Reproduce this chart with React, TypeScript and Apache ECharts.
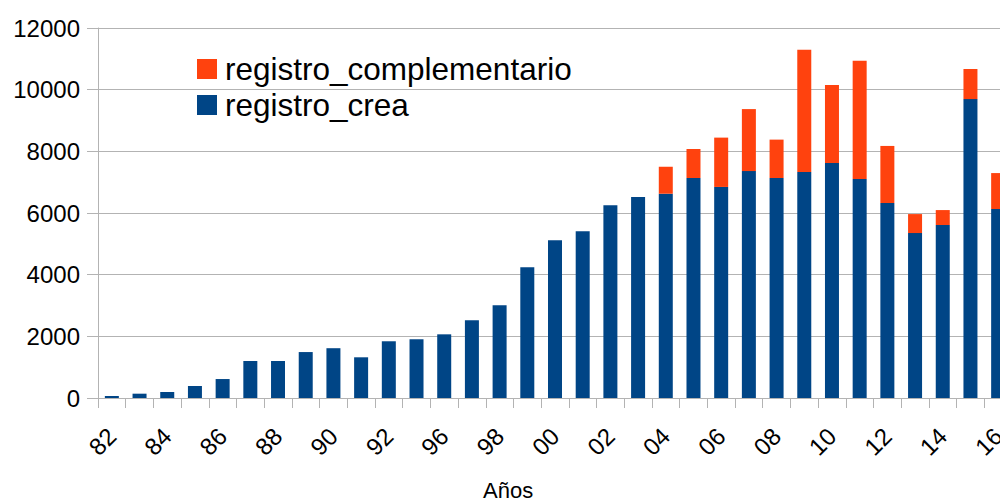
import React, { useEffect, useRef } from "react";
import * as echarts from "echarts";

const years = [
  "82", "83", "84", "85", "86", "87", "88", "89", "90", "91", "92", "94",
  "96", "97", "98", "99", "00", "01", "02", "03", "04", "05", "06", "07",
  "08", "09", "10", "11", "12", "13", "14", "15", "16",
];

const registroCrea = [
  65, 140, 195, 390, 615, 1200, 1200, 1490, 1615, 1320, 1840, 1905,
  2065, 2520, 3005, 4240, 5115, 5410, 6250, 6520, 6625, 7135, 6845, 7360,
  7135, 7330, 7620, 7105, 6325, 5350, 5610, 9695, 6130,
];

const registroComplementario = [
  null, null, null, null, null, null, null, null, null, null, null, null,
  null, null, null, null, null, null, null, null, 875, 940, 1600, 2010,
  1245, 3965, 2530, 3830, 1850, 615, 485, 975, 1165,
];

const yTicks = { min: 0, max: 12000, interval: 2000 };

const FONT = "'Liberation Sans', Arial, sans-serif";

export default function App() {
  const ref = useRef<HTMLDivElement>(null);

  useEffect(() => {
    if (!ref.current) return;
    const chart = echarts.init(ref.current, null, { renderer: "svg" });
    chart.setOption({
      animation: false,
      backgroundColor: "#ffffff",
      textStyle: { fontFamily: FONT },
      legend: {
        data: ["registro_complementario", "registro_crea"],
        orient: "vertical",
        left: 197,
        top: 53,
        padding: 0,
        itemWidth: 20,
        itemHeight: 20,
        itemGap: 4,
        icon: "rect",
        textStyle: {
          fontSize: 31.5,
          lineHeight: 31,
          color: "#000000",
          fontFamily: FONT,
          padding: [0, 0, 0, 3],
        },
      },
      grid: {
        left: 98,
        right: 0,
        top: 28,
        bottom: 103,
        containLabel: false,
      },
      xAxis: {
        type: "category",
        data: years,
        boundaryGap: true,
        axisLine: { show: true, lineStyle: { color: "#b3b3b3", width: 1 } },
        axisTick: {
          show: true,
          alignWithLabel: false,
          interval: 0,
          length: 10,
          lineStyle: { color: "#b3b3b3" },
        },
        axisLabel: {
          interval: 1,
          rotate: 45,
          fontSize: 24,
          color: "#000000",
          margin: 34,
          fontFamily: FONT,
        },
      },
      yAxis: {
        type: "value",
        min: yTicks.min,
        max: yTicks.max,
        interval: yTicks.interval,
        axisLine: { show: true, lineStyle: { color: "#b3b3b3", width: 1 } },
        axisTick: { show: true, length: 11, lineStyle: { color: "#b3b3b3" } },
        splitLine: { show: true, lineStyle: { color: "#b3b3b3", width: 1 } },
        axisLabel: {
          fontSize: 24,
          color: "#000000",
          margin: 18,
          fontFamily: FONT,
          formatter: (v: number) => String(v),
        },
      },
      graphic: [
        {
          type: "text",
          left: 483,
          top: 479,
          style: {
            text: "Años",
            fontSize: 22,
            fill: "#000000",
            fontFamily: FONT,
          },
        },
      ],
      series: [
        {
          name: "registro_crea",
          type: "bar",
          stack: "total",
          data: registroCrea,
          barWidth: 14,
          itemStyle: { color: "#004586" },
        },
        {
          name: "registro_complementario",
          type: "bar",
          stack: "total",
          data: registroComplementario,
          barWidth: 14,
          itemStyle: { color: "#ff420e" },
        },
      ],
    });
    return () => chart.dispose();
  }, []);

  return (
    <div
      ref={ref}
      style={{ position: "fixed", left: 0, top: 0, width: 1012, height: 501 }}
    />
  );
}
